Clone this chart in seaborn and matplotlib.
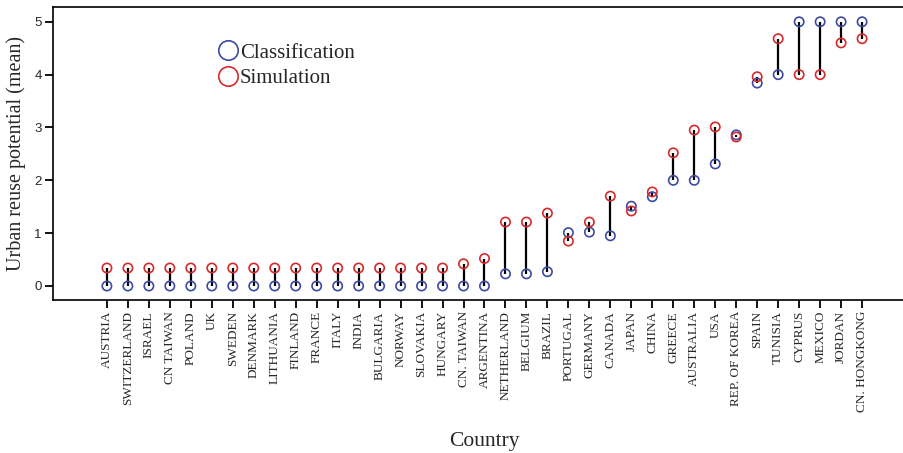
import matplotlib
matplotlib.use("Agg")
import matplotlib.pyplot as plt
from matplotlib.lines import Line2D
import seaborn as sns
import pandas as pd

countries = ["AUSTRIA", "SWITZERLAND", "ISRAEL", "CN TAIWAN", "POLAND", "UK", "SWEDEN",
             "DENMARK", "LITHUANIA", "FINLAND", "FRANCE", "ITALY", "INDIA", "BULGARIA",
             "NORWAY", "SLOVAKIA", "HUNGARY", "CN. TAIWAN", "ARGENTINA", "NETHERLAND",
             "BELGIUM", "BRAZIL", "PORTUGAL", "GERMANY", "CANADA", "JAPAN", "CHINA",
             "GREECE", "AUSTRALIA", "USA", "REP. OF KOREA", "SPAIN", "TUNISIA", "CYPRUS",
             "MEXICO", "JORDAN", "CN. HONGKONG"]
classification = [0, 0, 0, 0, 0, 0, 0, 0, 0, 0, 0, 0, 0, 0, 0, 0, 0, 0, 0,
                  0.23, 0.23, 0.27, 1.01, 1.02, 0.95, 1.51, 1.69, 2.0, 2.0, 2.31,
                  2.86, 3.84, 4.0, 5.0, 5.0, 5.0, 5.0]
simulation = [0.34, 0.34, 0.34, 0.34, 0.34, 0.34, 0.34, 0.34, 0.34, 0.34, 0.34, 0.34,
              0.34, 0.34, 0.34, 0.34, 0.34, 0.42, 0.52,
              1.21, 1.21, 1.38, 0.85, 1.21, 1.70, 1.42, 1.78, 2.52, 2.95, 3.01,
              2.82, 3.96, 4.68, 4.0, 4.0, 4.6, 4.68]

df = pd.DataFrame({"country": countries, "classification": classification,
                   "simulation": simulation})

sns.set_style("white")
plt.rcParams["font.family"] = ["Liberation Serif", "DejaVu Serif"]

blue = "#3d4aa3"
red = "#d42a2c"

fig = plt.figure(figsize=(9.04, 4.53), dpi=100)
ax = fig.add_axes([53 / 904, 1 - 300 / 453, (916 - 53) / 904, (300 - 7) / 453])

pos = list(range(len(countries)))
ax.vlines(pos, df["classification"], df["simulation"], color="black", linewidth=1.6, zorder=2)

sns.scatterplot(data=df, x="country", y="classification", ax=ax, marker="o", s=45,
                color=blue, facecolors="none", edgecolor=blue, linewidth=1.2,
                legend=False, zorder=3)
sns.scatterplot(data=df, x="country", y="simulation", ax=ax, marker="o", s=45,
                color=red, facecolors="none", edgecolor=red, linewidth=1.2,
                legend=False, zorder=3)

ax.set_xlim(-2.57, len(countries) - 1 + 2.57)
ax.set_ylim(-0.265, 5.28)
ax.set_xticks(pos)
ax.set_xticklabels(countries, rotation=90, fontsize=9.5)
ax.set_yticks([0, 1, 2, 3, 4, 5])
ax.set_yticklabels(["0", "1", "2", "3", "4", "5"], fontfamily="Liberation Sans",
                   fontsize=9.5)

ax.tick_params(axis="both", direction="out", length=6, width=1.3, color="black",
               bottom=True, left=True, pad=2)
for side in ["left", "bottom", "top"]:
    ax.spines[side].set_visible(True)
    ax.spines[side].set_color("black")
    ax.spines[side].set_linewidth(1.2)
ax.spines["right"].set_visible(False)

ax.set_xlabel("Country", fontsize=15.5, labelpad=14)
ax.set_ylabel("Urban reuse potential (mean)", fontsize=14.5, labelpad=6)

handles = [Line2D([], [], marker="o", linestyle="none", markersize=14,
                  markerfacecolor="none", markeredgecolor=blue, markeredgewidth=1.2),
           Line2D([], [], marker="o", linestyle="none", markersize=14,
                  markerfacecolor="none", markeredgecolor=red, markeredgewidth=1.2)]
leg = ax.legend(handles, ["Classification", "Simulation"], loc="upper left",
                bbox_to_anchor=((219 - 53) / 863, 1 - (43 - 7) / 293), frameon=False,
                fontsize=15, handlelength=0.9, handletextpad=0.1, labelspacing=0.28,
                borderpad=0, borderaxespad=0)

fig.savefig("out.png", dpi=100)
